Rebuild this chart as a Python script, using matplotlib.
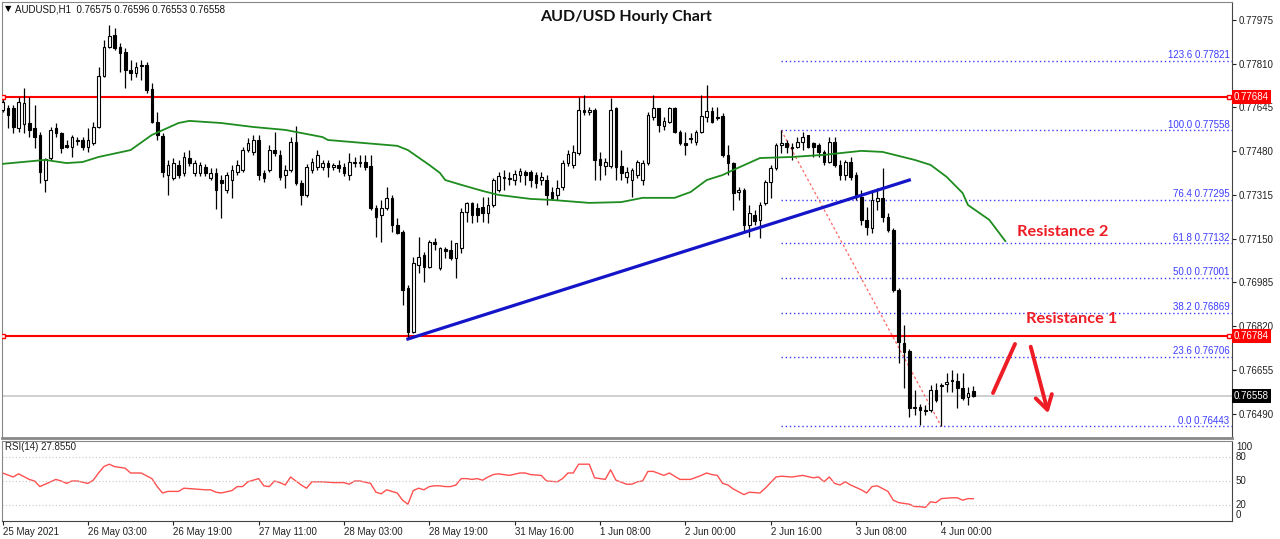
import numpy as np
import matplotlib.pyplot as plt
from matplotlib.lines import Line2D
from matplotlib.patches import FancyArrowPatch

# hourly candles, prices in points (x 1e-5)
opens = [77635, 77643, 77643, 77567, 77583, 77586, 77567, 77541, 77371, 77454,
         77567, 77549, 77503, 77496, 77522, 77522, 77496, 77511, 77571, 77763,
         77873, 77918, 77873, 77854, 77786, 77775, 77805, 77805, 77714, 77590,
         77537, 77390, 77379, 77428, 77398, 77454, 77398, 77398, 77420, 77379,
         77398, 77371, 77334, 77371, 77402, 77409, 77484, 77477, 77522, 77398,
         77409, 77484, 77466, 77390, 77409, 77515, 77360, 77315, 77409, 77420,
         77420, 77435, 77420, 77428, 77420, 77390, 77439, 77435, 77439, 77424,
         77266, 77239, 77266, 77304, 77202, 77175, 76964, 76798, 77051, 77089,
         77043, 77138, 77040, 77111, 77108, 77077, 77115, 77251, 77285, 77266,
         77270, 77247, 77277, 77334, 77383, 77379, 77371, 77390, 77402, 77402,
         77390, 77371, 77371, 77326, 77315, 77345, 77435, 77428, 77473, 77635,
         77628, 77635, 77451, 77424, 77424, 77643, 77424, 77383, 77371, 77390,
         77371, 77435, 77609, 77643, 77575, 77590, 77643, 77552, 77511, 77530,
         77515, 77552, 77609, 77632, 77609, 77613, 77466, 77435, 77326, 77334,
         77202, 77239, 77221, 77285, 77364, 77417, 77503, 77511, 77496, 77496,
         77515, 77541, 77511, 77503, 77477, 77439, 77515, 77428, 77390, 77439,
         77390, 77307, 77221, 77190, 77292, 77304, 77232, 77183, 76957, 76757,
         76727, 76512, 76516, 76504, 76504, 76580, 76595, 76602, 76614, 76614,
         76587, 76553, 76575]
highs = [77684, 77654, 77654, 77684, 77718, 77684, 77654, 77552, 77454, 77571,
         77586, 77552, 77522, 77541, 77533, 77533, 77567, 77590, 77797, 77899,
         77956, 77944, 77888, 77869, 77824, 77816, 77824, 77816, 77737, 77628,
         77549, 77447, 77454, 77447, 77477, 77484, 77447, 77439, 77432, 77417,
         77417, 77390, 77402, 77428, 77447, 77496, 77530, 77541, 77541, 77409,
         77503, 77552, 77484, 77428, 77533, 77575, 77371, 77432, 77454, 77484,
         77447, 77447, 77435, 77447, 77435, 77473, 77458, 77466, 77466, 77466,
         77277, 77296, 77345, 77315, 77228, 77183, 76976, 77081, 77157, 77100,
         77145, 77153, 77119, 77119, 77145, 77134, 77266, 77288, 77288, 77285,
         77307, 77307, 77379, 77402, 77409, 77402, 77409, 77417, 77409, 77409,
         77402, 77402, 77390, 77345, 77371, 77447, 77484, 77503, 77684, 77692,
         77647, 77643, 77477, 77454, 77681, 77647, 77484, 77420, 77417, 77447,
         77447, 77628, 77692, 77643, 77609, 77647, 77647, 77560, 77552, 77549,
         77560, 77692, 77730, 77647, 77647, 77624, 77503, 77439, 77345, 77341,
         77277, 77258, 77288, 77371, 77428, 77511, 77558, 77522, 77511, 77533,
         77552, 77541, 77515, 77511, 77484, 77533, 77533, 77447, 77447, 77458,
         77402, 77334, 77270, 77334, 77341, 77417, 77247, 77190, 76964, 76825,
         76734, 76580, 76527, 76523, 76599, 76606, 76606, 76644, 76655, 76644,
         76644, 76591, 76596]
lows = [77628, 77567, 77549, 77552, 77549, 77533, 77492, 77360, 77326, 77447,
        77533, 77473, 77492, 77458, 77503, 77484, 77477, 77503, 77567, 77760,
        77869, 77862, 77779, 77718, 77748, 77760, 77748, 77699, 77586, 77522,
        77383, 77315, 77371, 77379, 77386, 77424, 77386, 77386, 77386, 77371,
        77262, 77228, 77322, 77304, 77390, 77402, 77477, 77466, 77371, 77364,
        77402, 77462, 77371, 77341, 77402, 77353, 77277, 77307, 77398, 77409,
        77409, 77383, 77409, 77402, 77386, 77371, 77420, 77420, 77409, 77258,
        77157, 77138, 77258, 77175, 77168, 76900, 76772, 76795, 77021, 76987,
        77040, 77108, 77032, 77077, 77070, 77002, 77096, 77213, 77209, 77213,
        77213, 77209, 77270, 77326, 77334, 77353, 77353, 77364, 77353, 77345,
        77341, 77353, 77277, 77296, 77296, 77334, 77424, 77417, 77466, 77616,
        77616, 77371, 77371, 77390, 77417, 77371, 77371, 77360, 77307, 77379,
        77353, 77428, 77598, 77552, 77560, 77586, 77549, 77503, 77466, 77511,
        77503, 77549, 77590, 77586, 77598, 77458, 77390, 77258, 77296, 77175,
        77157, 77202, 77153, 77277, 77304, 77409, 77473, 77473, 77447, 77492,
        77484, 77492, 77458, 77458, 77428, 77435, 77420, 77371, 77371, 77371,
        77296, 77202, 77164, 77172, 77258, 77213, 77175, 76949, 76682, 76587,
        76478, 76485, 76448, 76485, 76497, 76534, 76443, 76572, 76572, 76512,
        76542, 76523, 76553]
closes = [77665, 77616, 77571, 77665, 77662, 77560, 77533, 77402, 77451, 77560,
          77549, 77492, 77496, 77533, 77518, 77496, 77522, 77571, 77763, 77873,
          77914, 77869, 77850, 77786, 77775, 77797, 77801, 77711, 77590, 77541,
          77402, 77428, 77435, 77390, 77458, 77435, 77435, 77428, 77398, 77398,
          77334, 77360, 77390, 77409, 77428, 77484, 77511, 77522, 77390, 77379,
          77484, 77473, 77383, 77409, 77515, 77360, 77315, 77420, 77439, 77466,
          77435, 77420, 77428, 77417, 77398, 77439, 77435, 77439, 77420, 77266,
          77232, 77266, 77304, 77202, 77172, 76957, 76798, 77058, 77081, 77043,
          77138, 77130, 77115, 77104, 77077, 77134, 77251, 77285, 77239, 77239,
          77247, 77277, 77371, 77386, 77379, 77375, 77394, 77405, 77390, 77371,
          77360, 77383, 77315, 77304, 77341, 77435, 77469, 77477, 77635, 77628,
          77635, 77447, 77428, 77439, 77635, 77420, 77398, 77402, 77409, 77439,
          77435, 77616, 77643, 77579, 77594, 77643, 77552, 77511, 77503, 77526,
          77552, 77613, 77632, 77590, 77605, 77466, 77435, 77322, 77334, 77202,
          77247, 77217, 77277, 77364, 77417, 77503, 77511, 77496, 77492, 77515,
          77533, 77496, 77496, 77477, 77439, 77515, 77428, 77390, 77439, 77383,
          77307, 77221, 77194, 77296, 77304, 77232, 77183, 76957, 76761, 76723,
          76512, 76516, 76504, 76501, 76580, 76542, 76599, 76610, 76617, 76587,
          76550, 76568, 76558]

# moving average read at selected bars (shifted MA, runs past last bar)
ma_bars = [0, 8, 12, 15, 18, 24, 28, 33, 35, 41, 47, 53, 60, 61, 74, 76, 80, 82,
           83, 86, 90, 93, 99, 103, 110, 116, 120, 126, 129, 132, 135, 137, 142,
           148, 154, 161, 165, 171, 174, 177, 180, 181, 185, 188]
ma_vals = [77432, 77447, 77435, 77439, 77458, 77484, 77541, 77586, 77594, 77586,
           77571, 77560, 77533, 77522, 77500, 77484, 77428, 77398, 77371, 77353,
           77330, 77315, 77300, 77296, 77285, 77288, 77304, 77304, 77326, 77371,
           77390, 77409, 77454, 77458, 77466, 77481, 77477, 77447, 77428, 77383,
           77322, 77277, 77221, 77141]

# RSI(14) read at selected bars
rsi_bars = [0, 2, 3, 5, 6, 7, 8, 10, 11, 12, 13, 14, 16, 17, 18, 19, 20, 21, 23, 24,
            26, 28, 29, 30, 31, 33, 34, 36, 38, 39, 40, 41, 43, 44, 45, 46, 47, 48,
            49, 50, 51, 52, 53, 54, 56, 57, 58, 60, 62, 64, 65, 66, 67, 69, 70, 71,
            72, 74, 75, 76, 77, 78, 79, 80, 81, 82, 83, 84, 85, 86, 87, 88, 89, 90,
            91, 92, 93, 95, 97, 98, 99, 101, 102, 104, 105, 106, 107, 108, 110, 111,
            112, 113, 114, 115, 117, 118, 119, 120, 121, 122, 124, 125, 127, 129,
            131, 132, 133, 134, 135, 136, 137, 139, 140, 142, 143, 144, 145, 146,
            148, 150, 152, 153, 154, 155, 156, 157, 158, 159, 161, 162, 163, 164,
            166, 167, 168, 170, 171, 172, 173, 174, 175, 176, 178, 179, 180, 181, 182]
rsi_vals = [60, 55, 59, 52, 50, 43, 46, 52, 50, 47, 50, 50, 47, 51, 60, 68, 71, 68, 66, 60,
            60, 53, 43, 35, 37, 37, 41, 40, 39, 39, 36, 35, 38, 43, 43, 49, 51, 53,
            44, 43, 50, 48, 45, 55, 45, 41, 49, 49, 48, 48, 46, 50, 50, 47, 36, 34,
            39, 35, 26, 21, 38, 41, 39, 43, 44, 44, 43, 43, 45, 53, 53, 52, 53, 51,
            55, 58, 59, 57, 60, 60, 58, 57, 50, 49, 53, 60, 60, 71, 71, 54,
            53, 52, 64, 51, 46, 46, 49, 50, 62, 62, 57, 60, 52, 52,
            57, 60, 58, 57, 47, 45, 40, 33, 36, 35, 41, 48, 55, 56,
            55, 57, 54, 55, 49, 55, 47, 45, 49, 45, 39, 35, 43, 44,
            37, 26, 23, 21, 18, 18, 17, 24, 23, 28, 29, 29, 26, 28, 27.855]

fib_pct = ['0.0', '23.6', '38.2', '50.0', '61.8', '76.4', '100.0', '123.6']
fib_lvl = [0.76443, 0.76706, 0.76869, 0.77001, 0.77132, 0.77295, 0.77558, 0.77821]
fib_from, fib_to = 146, 176
trend_bars = [76, 170]
trend_vals = [0.76772, 0.77371]
res_lines = [0.77684, 0.76784]
bid = 0.76558
price_ticks = [0.77975, 0.77810, 0.77645, 0.77480, 0.77315, 0.77150, 0.76985,
               0.76820, 0.76655, 0.76490]
date_labels = ['25 May 2021', '26 May 03:00', '26 May 19:00', '27 May 11:00',
               '28 May 03:00', '28 May 19:00', '31 May 16:00', '1 Jun 08:00',
               '2 Jun 00:00', '2 Jun 16:00', '3 Jun 08:00', '4 Jun 00:00']

plt.rcParams['font.family'] = ['Liberation Sans', 'DejaVu Sans']

W, H = 1280, 539
fig = plt.figure(figsize=(W / 100, H / 100), dpi=100)
ax = fig.add_axes([2 / W, 1 - 438 / H, 1230 / W, 436 / H])
rx = fig.add_axes([2 / W, 1 - 521 / H, 1230 / W, 80 / H])

o = np.array(opens) / 1e5
h = np.array(highs) / 1e5
l = np.array(lows) / 1e5
c = np.array(closes) / 1e5
x = np.arange(len(c))
up = c >= o

ax.vlines(x, l, h, color='black', lw=0.9, zorder=3)
ax.bar(x[up], (c - o)[up], bottom=o[up], width=0.5, color='white',
       edgecolor='black', lw=0.8, zorder=4)
ax.bar(x[~up], (o - c)[~up], bottom=c[~up], width=0.5, color='black',
       edgecolor='black', lw=0.8, zorder=4)

ax.plot(np.array(ma_bars), np.array(ma_vals) / 1e5, color='#1e8c1e', lw=1.3, zorder=5)
ax.plot(trend_bars, trend_vals, color='#1414c8', lw=2.3, zorder=6)

for lv in res_lines:
    ax.axhline(lv, color='#ff0000', lw=1.5, zorder=2)
    ax.plot([0.1, 229.9], [lv, lv], 's', mfc='white', mec='#ff0000', ms=3, mew=1, zorder=7)
ax.axhline(bid, color='#cccccc', lw=1.3, zorder=1)

ax.hlines(fib_lvl, fib_from, 231, colors='#3c3cff', linestyles=(0, (1, 2)), lw=1, zorder=2)
for p, lv in zip(fib_pct, fib_lvl):
    ax.text(0.998, lv + 0.00003, f'{p} {lv:.5f}', transform=ax.get_yaxis_transform(),
            ha='right', va='bottom', fontsize=7, color='#3c3cff')
ax.plot([fib_from, fib_to], [fib_lvl[6], fib_lvl[0]], color='#ff6464',
        ls=(0, (2, 2)), lw=0.9, zorder=2)

ax.set_xlim(-0.1, 230.5)
ax.set_ylim(0.76399, 0.78042)
ax.yaxis.tick_right()
ax.set_yticks(price_ticks)
ax.set_yticklabels([f'{v:.5f}' for v in price_ticks])
ax.tick_params(axis='y', labelsize=7, length=3, pad=2, colors='#222222')
ax.tick_params(axis='x', bottom=False, labelbottom=False)
for s in ['left', 'top']:
    ax.spines[s].set_color('#888888')
ax.spines['right'].set_color('#444444')
ax.spines['bottom'].set_color('#888888')
ax.spines['bottom'].set_linewidth(2)

for lv, fc in [(res_lines[0], '#ff0000'), (res_lines[1], '#ff0000'), (bid, '#000000')]:
    ax.text(1.0015, lv, f'{lv:.5f}', transform=ax.get_yaxis_transform(), ha='left',
            va='center', fontsize=7, color='white',
            bbox=dict(fc=fc, ec='none', pad=1.6))

# RSI panel
rx.plot(rsi_bars, rsi_vals, color='#ff5050', lw=1)
for lv in [80, 50, 20]:
    rx.axhline(lv, color='#c8c8c8', ls=(0, (1, 2)), lw=0.8)
rx.set_xlim(-0.1, 230.5)
rx.set_ylim(0, 100)
rx.set_yticks([])
rx.set_xticks(range(0, 16 * len(date_labels), 16))
rx.set_xticklabels(date_labels, ha='left')
rx.tick_params(axis='x', labelsize=7, length=3, pad=1, colors='#222222')
for s in ['left', 'top']:
    rx.spines[s].set_color('#888888')
rx.spines['right'].set_color('#444444')
rx.spines['bottom'].set_color('#444444')
for txt, py in [('100', 447), ('80', 457), ('50', 481), ('20', 505), ('0', 515)]:
    fig.text(1236 / W, 1 - py / H, txt, fontsize=7, va='center', color='#222222')
fig.text(5 / W, 1 - 447 / H, 'RSI(14) 27.8550', fontsize=7, va='center', color='#222222')

# header and annotations
fig.text(5 / W, 1 - 9 / H, '▼', fontsize=6, va='center', family='DejaVu Sans')
fig.text(15 / W, 1 - 9 / H, 'AUDUSD,H1  0.76575 0.76596 0.76553 0.76558',
         fontsize=7, va='center', color='#111111')
fig.text(626 / W, 1 - 17.5 / H, 'AUD/USD Hourly Chart', fontsize=11.5,
         weight='bold', family='Lato', ha='center', va='center', color='#111111')
fig.text(1063 / W, 1 - 232 / H, 'Resistance 2', fontsize=11.8, weight='bold',
         family='Lato', ha='center', va='center', color='#ee1c24')
fig.text(1072 / W, 1 - 319 / H, 'Resistance 1', fontsize=11.8, weight='bold',
         family='Lato', ha='center', va='center', color='#ee1c24')

fig.add_artist(Line2D([993 / W, 1015 / W], [1 - 393 / H, 1 - 344 / H],
                      color='#ee1c24', lw=2.8, solid_capstyle='round'))
fig.add_artist(FancyArrowPatch((1030 / W, 1 - 344 / H), (1049 / W, 1 - 416 / H),
                               transform=fig.transFigure, color='#ee1c24', lw=2.8,
                               arrowstyle='->,head_length=5,head_width=3',
                               mutation_scale=2))

fig.savefig('out.png', dpi=100, facecolor='white')
